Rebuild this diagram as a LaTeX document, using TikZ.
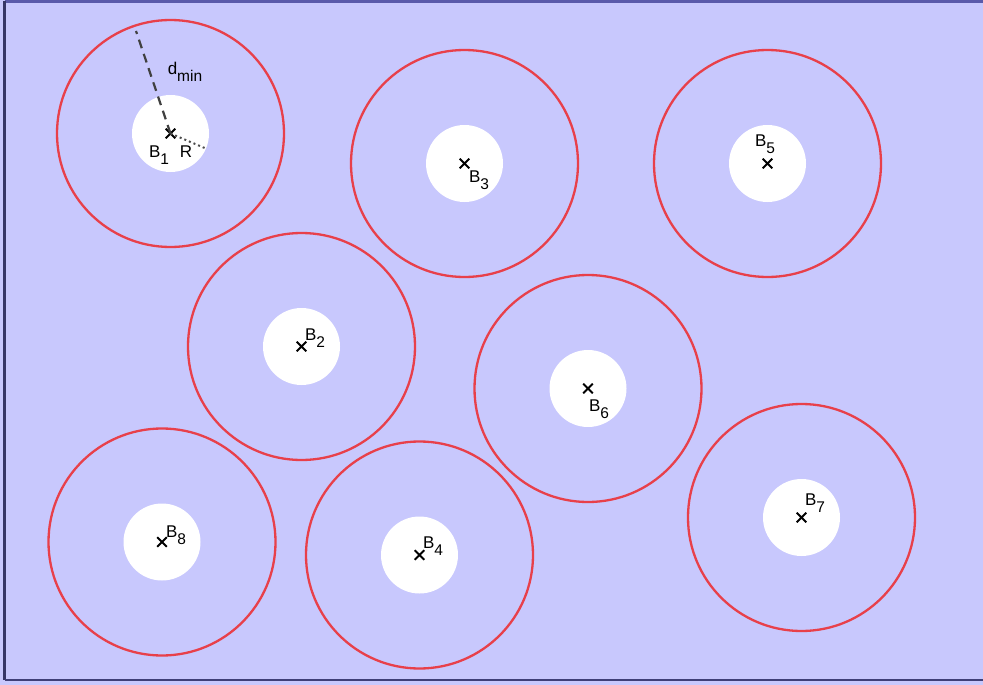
\documentclass[tikz,border=0pt]{standalone}
\usepackage{fontspec}
\setmainfont{Liberation Sans}
\newcommand{\subl}[1]{\raisebox{-0.42em}{\fontsize{15.5}{16}\selectfont #1}}
\begin{document}
\begin{tikzpicture}[x=1pt,y=-1pt,
  font=\fontsize{17}{19}\selectfont,
  zone/.style={draw=redline,line width=2.3pt,circle,minimum size=227pt,inner sep=0pt},
  hole/.style={fill=white,circle,minimum size=77pt,inner sep=0pt},
  crossmark/.style={black,line width=1.9pt},
  lbl/.style={inner sep=0pt}]
\definecolor{bgfill}{RGB}{200,200,253}
\definecolor{borderblue}{RGB}{90,90,170}
\definecolor{redline}{RGB}{232,64,74}
\useasboundingbox (0,0) rectangle (983,685);
\fill[bgfill] (0,0) rectangle (983,685);
\draw[borderblue,line width=2.5pt] (4.5,1.5) -- (990,1.5);
\draw[borderblue!60!black,line width=2.5pt] (4.5,1.5) -- (4.5,680);
\draw[borderblue!70!black,line width=2.5pt] (4.5,680) -- (990,680);
% zones
\foreach \n/\x/\y in {1/170.5/133.5, 3/464.5/163.5, 5/767.5/163.5, 2/301.5/346.5, 6/588/388.5, 8/162/542, 4/419.5/555, 7/801.5/517.5}{
  \node[zone] (z\n) at (\x,\y) {};
  \node[hole] (h\n) at (\x,\y) {};
  \coordinate (c\n) at (\x,\y);
  \draw[crossmark] (c\n) +(-4.8,-4.8) -- +(4.8,4.8) (c\n) +(-4.8,4.8) -- +(4.8,-4.8);
}
% dmin and R
\coordinate (dtop) at (136,31);
\coordinate (redge) at (207,149);
\draw[black!75,line width=2.2pt,dash pattern=on 9pt off 6pt] (c1) -- (dtop);
\draw[black!70,line width=2pt,dash pattern=on 2pt off 3pt] (c1) -- (redge);
\node[lbl] (ldmin) at (185,72) {d\subl{min}};
\node[lbl] (lR) at (186,152) {R};
% labels
\node[lbl] (l1) at (159,155) {B\subl{1}};
\node[lbl] (l3) at (479,180) {B\subl{3}};
\node[lbl] (l5) at (765,144) {B\subl{5}};
\node[lbl] (l2) at (315,338) {B\subl{2}};
\node[lbl] (l6) at (599,409) {B\subl{6}};
\node[lbl] (l8) at (176,535) {B\subl{8}};
\node[lbl] (l4) at (433,546) {B\subl{4}};
\node[lbl] (l7) at (815,503) {B\subl{7}};
\end{tikzpicture}
\end{document}
